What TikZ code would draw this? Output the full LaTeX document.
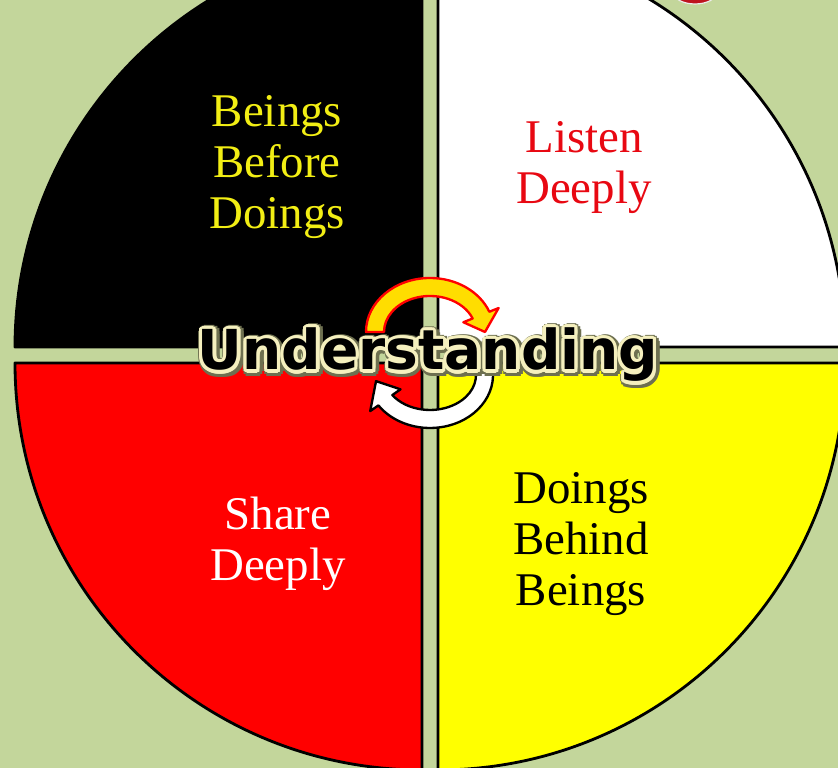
\documentclass[tikz,border=0pt]{standalone}
\usepackage{fontspec}
\setmainfont{Liberation Serif}
\newfontfamily\undfont{DejaVu Sans}
\definecolor{mwGreen}{HTML}{C3D69B}
\definecolor{mwRed}{HTML}{FF0000}
\definecolor{mwYellow}{HTML}{FFFF00}
\definecolor{mwLabelRed}{RGB}{232,8,18}
\definecolor{mwGold}{RGB}{242,238,20}
\definecolor{mwCream}{RGB}{245,240,190}
\definecolor{mwShade}{RGB}{110,112,80}
\definecolor{mwArrow}{RGB}{255,221,0}
\definecolor{mwBlob}{RGB}{190,20,30}

\tikzset{
  quad/.style={draw=black,line width=2.4pt,line join=round},
  word/.style={font=\fontsize{40}{43.5}\selectfont,align=center,inner sep=0pt},
  bigword/.style={font=\undfont\bfseries\fontsize{47}{50}\selectfont,anchor=base,inner sep=0pt},
}

\begin{document}
\begin{tikzpicture}[x=0.03cm,y=0.03cm]
  \fill[mwGreen] (0,0) rectangle (838,768);
  \useasboundingbox (0,0) rectangle (838,768);
  \begin{scope}
    \clip (0,0) rectangle (838,768);
    % the four quarters
    \filldraw[quad,fill=black] (422,421) -- (15,421) arc[start angle=180,end angle=90,radius=407] -- cycle;
    \filldraw[quad,fill=white] (438,421) -- (845,421) arc[start angle=0,end angle=90,radius=407] -- cycle;
    \filldraw[quad,fill=mwRed] (422,405) -- (15,405) arc[start angle=180,end angle=270,radius=407] -- cycle;
    \filldraw[quad,fill=mwYellow] (438,405) -- (845,405) arc[start angle=0,end angle=-90,radius=407] -- cycle;
    % cut-off badge at the top
    \filldraw[fill=mwBlob,draw=white!85!gray,line width=1pt] (695,776) ellipse[x radius=22,y radius=12];
  \end{scope}

  \node[word,text=mwGold] (beings) at (277,601) {Beings\\Before\\Doings};
  \node[word,text=mwLabelRed] (listen) at (584,600.5) {Listen\\Deeply};
  \node[word,text=white] (share) at (278,224) {Share\\Deeply};
  \node[word,text=black] (doings) at (581,224) {Doings\\Behind\\Beings};

  % turning arrows
  \filldraw[fill=mwArrow,draw=mwRed,line width=2pt,line join=round]
    (366,436) arc[start angle=180,end angle=22,x radius=64,y radius=54]
    -- ({430+74*cos(22)},{436+64*sin(22)}) -- (485,436)
    -- ({430+36*cos(22)},{436+26*sin(22)}) -- ({430+46*cos(22)},{436+36*sin(22)})
    arc[start angle=22,end angle=180,x radius=46,y radius=36] -- cycle;
  \filldraw[fill=white,draw=black,line width=2pt,line join=round]
    ({430+63*cos(10)},{393+53*sin(10)}) arc[start angle=10,end angle=-145,x radius=63,y radius=53]
    -- ({430+73*cos(-145)},{393+63*sin(-145)}) -- ({430+54.5*cos(-172)},{393+44*sin(-172)})
    -- ({430+36*cos(-145)},{393+25*sin(-145)}) -- ({430+46*cos(-145)},{393+35*sin(-145)})
    arc[start angle=-145,end angle=10,x radius=46,y radius=35] -- cycle;

  % glowing title across the middle
  \foreach \a in {0,30,...,330}
    \node[bigword,text=mwShade] (shade\a) at ([shift={(\a:5.5)}]429.5,396.5) {Understanding};
  \foreach \a in {0,20,...,340}
    \node[bigword,text=mwCream] (glow\a) at ([shift={(\a:3.2)}]428,398) {Understanding};
  \node[bigword,text=black] (title) at (428,398) {Understanding};
\end{tikzpicture}
\end{document}
